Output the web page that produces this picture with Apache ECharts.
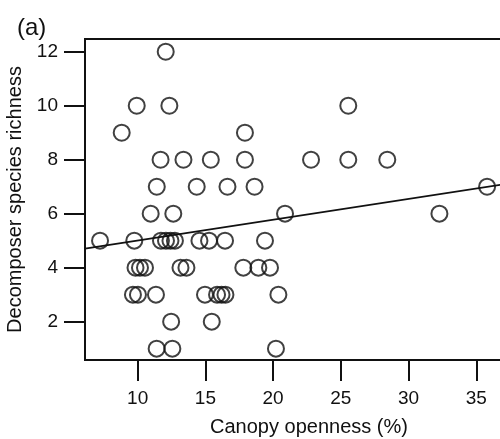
<!DOCTYPE html>
<html>
<head>
<meta charset="utf-8">
<script src="https://cdn.jsdelivr.net/npm/echarts@6/dist/echarts.min.js"></script>
<style>
html,body{margin:0;padding:0;background:#fff;}
#chart{width:500px;height:439px;}
</style>
</head>
<body>
<div id="chart"></div>
<script>
// Canopy openness (%) and decomposer species richness
const xValues = [
  12.07,
  9.93, 12.34, 25.55,
  8.82, 17.92,
  11.69, 13.38, 15.4, 17.92, 22.8, 25.55, 28.43,
  11.41, 14.36, 16.63, 18.63, 35.8,
  10.96, 12.63, 20.88, 32.28,
  7.22, 9.75, 11.72, 12.09, 12.42, 12.75, 14.56, 15.27, 16.45, 19.40,
  9.84, 10.17, 10.54, 13.16, 13.6, 17.8, 18.91, 19.77,
  9.65, 10.02, 11.35, 14.97, 15.86, 16.19, 16.48, 20.39,
  12.47, 15.47,
  11.40, 12.56, 20.21
];
const yValues = [
  12,
  10, 10, 10,
  9, 9,
  8, 8, 8, 8, 8, 8, 8,
  7, 7, 7, 7, 7,
  6, 6, 6, 6,
  5, 5, 5, 5, 5, 5, 5, 5, 5, 5,
  4, 4, 4, 4, 4, 4, 4, 4,
  3, 3, 3, 3, 3, 3, 3, 3,
  2, 2,
  1, 1, 1
];
// fitted regression line: intercept and slope
const fitIntercept = 4.23;
const fitSlope = 0.0772;
const xTicks = [10, 15, 20, 25, 30, 35];
const yTicks = [2, 4, 6, 8, 10, 12];
const xRange = [6.11, 39.19];
const yRange = [0.58, 12.47];

const points = xValues.map((x, i) => [x, yValues[i]]);
const fitLine = xRange.map(x => [x, fitIntercept + fitSlope * x]);

const font = '"Liberation Sans", Arial, sans-serif';
const chart = echarts.init(document.getElementById('chart'), null, {renderer: 'canvas'});
chart.setOption({
  animation: false,
  backgroundColor: '#fff',
  title: {
    text: '(a)', left: 12, top: 11,
    textStyle: {fontFamily: font, fontSize: 24, fontWeight: 'normal', color: '#111'}
  },
  grid: {
    left: 85, top: 39, right: -33, bottom: 79,
    containLabel: false, outerBoundsMode: 'none',
    show: true, borderColor: '#111', borderWidth: 2, backgroundColor: 'transparent'
  },
  xAxis: {
    type: 'value', min: xRange[0], max: xRange[1],
    name: 'Canopy openness (%)', nameLocation: 'middle', nameGap: 57,
    nameTextStyle: {fontFamily: font, fontSize: 20, color: '#111'},
    axisLine: {show: true, onZero: false, lineStyle: {color: '#111', width: 2}},
    axisTick: {show: true, inside: false, length: 21, customValues: xTicks, lineStyle: {color: '#111', width: 2}},
    axisLabel: {customValues: xTicks, margin: 29, fontFamily: font, fontSize: 19, color: '#111'},
    splitLine: {show: false}
  },
  yAxis: {
    type: 'value', min: yRange[0], max: yRange[1],
    name: 'Decomposer species richness', nameLocation: 'middle', nameGap: 58,
    nameTextStyle: {fontFamily: font, fontSize: 20, color: '#111'},
    axisLine: {show: true, onZero: false, lineStyle: {color: '#111', width: 2}},
    axisTick: {show: true, inside: false, length: 21, customValues: yTicks, lineStyle: {color: '#111', width: 2}},
    axisLabel: {customValues: yTicks, margin: 27, fontFamily: font, fontSize: 19, color: '#111'},
    splitLine: {show: false}
  },
  series: [
    {
      type: 'scatter', data: points, symbol: 'circle', symbolSize: 16,
      itemStyle: {color: 'rgba(0,0,0,0)', borderColor: '#111', borderWidth: 2},
      silent: true
    },
    {
      type: 'line', data: fitLine, symbol: 'none', clip: true,
      lineStyle: {color: '#111', width: 1.8}, silent: true
    }
  ]
});
</script>
</body>
</html>
